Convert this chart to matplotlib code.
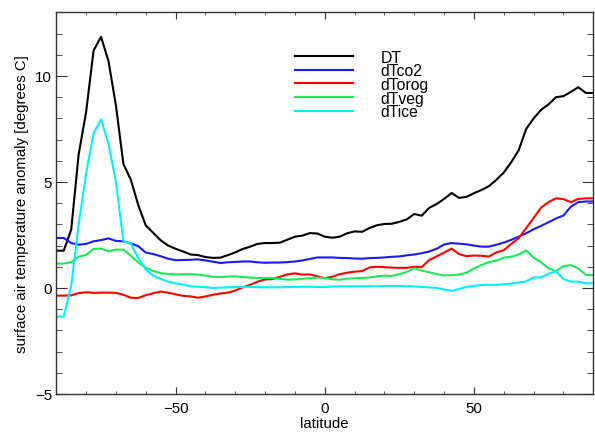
import numpy as np
import matplotlib
matplotlib.use('Agg')
import matplotlib.pyplot as plt
from matplotlib.ticker import MultipleLocator

plt.rcParams['font.family'] = ['Liberation Sans', 'DejaVu Sans']

# latitude grid (2.5 degree steps)
lat = np.arange(-90, 90.1, 2.5)

DT = [1.76, 1.76, 2.75, 6.3, 8.3, 11.2, 11.85, 10.7, 8.6, 5.85,
      5.1, 3.9, 2.95, 2.6, 2.25, 2.0, 1.85, 1.72, 1.58, 1.55,
      1.46, 1.42, 1.43, 1.55, 1.68, 1.84, 1.95, 2.08, 2.12, 2.12,
      2.14, 2.28, 2.42, 2.47, 2.59, 2.57, 2.42, 2.37, 2.42, 2.58,
      2.67, 2.65, 2.83, 2.96, 3.02, 3.03, 3.12, 3.24, 3.49, 3.41,
      3.78, 3.96, 4.2, 4.48, 4.25, 4.3, 4.47, 4.62, 4.8, 5.1,
      5.45, 5.93, 6.5, 7.5, 8.0, 8.4, 8.66, 9.0, 9.05, 9.25,
      9.47, 9.2, 9.2]

dTco2 = [2.36, 2.36, 2.12, 2.04, 2.08, 2.2, 2.26, 2.34, 2.22, 2.2,
         2.1, 1.97, 1.67, 1.6, 1.5, 1.38, 1.31, 1.32, 1.33, 1.35,
         1.3, 1.24, 1.18, 1.21, 1.23, 1.25, 1.25, 1.21, 1.19, 1.2,
         1.2, 1.22, 1.25, 1.3, 1.37, 1.44, 1.44, 1.44, 1.42, 1.41,
         1.39, 1.38, 1.41, 1.42, 1.44, 1.47, 1.49, 1.54, 1.58, 1.64,
         1.72, 1.85, 2.05, 2.12, 2.09, 2.06, 2.0, 1.95, 1.95, 2.04,
         2.14, 2.27, 2.42, 2.58, 2.77, 2.93, 3.1, 3.28, 3.42, 3.84,
         4.05, 4.08, 4.08]

dTorog = [-0.36, -0.36, -0.35, -0.24, -0.2, -0.23, -0.22, -0.22, -0.23, -0.32,
          -0.46, -0.47, -0.34, -0.25, -0.17, -0.22, -0.3, -0.37, -0.4, -0.46,
          -0.4, -0.32, -0.26, -0.22, -0.12, 0.03, 0.15, 0.3, 0.4, 0.42,
          0.53, 0.64, 0.69, 0.63, 0.64, 0.55, 0.46, 0.53, 0.65, 0.72,
          0.77, 0.8, 0.97, 1.0, 0.98, 0.96, 0.95, 0.95, 1.0, 0.98,
          1.32, 1.49, 1.67, 1.86, 1.6, 1.5, 1.53, 1.52, 1.48, 1.68,
          1.78, 2.08, 2.35, 2.82, 3.3, 3.79, 4.05, 4.23, 4.19, 4.05,
          4.2, 4.23, 4.23]

dTveg = [1.15, 1.15, 1.22, 1.48, 1.56, 1.84, 1.86, 1.73, 1.81, 1.81,
         1.52, 1.2, 0.95, 0.8, 0.7, 0.66, 0.64, 0.65, 0.65, 0.63,
         0.59, 0.53, 0.51, 0.54, 0.55, 0.52, 0.49, 0.47, 0.47, 0.47,
         0.43, 0.39, 0.4, 0.43, 0.47, 0.49, 0.47, 0.41, 0.39, 0.44,
         0.46, 0.47, 0.5, 0.55, 0.58, 0.57, 0.65, 0.76, 0.93, 0.82,
         0.74, 0.66, 0.59, 0.6, 0.63, 0.72, 0.92, 1.08, 1.22, 1.29,
         1.43, 1.47, 1.58, 1.77, 1.43, 1.21, 0.93, 0.8, 1.03, 1.08,
         0.92, 0.62, 0.61]

dTice = [-1.35, -1.35, 0.1, 3.0, 5.4, 7.3, 7.95, 6.8, 5.0, 2.2,
         2.1, 1.4, 0.87, 0.58, 0.43, 0.3, 0.22, 0.16, 0.08, 0.06,
         0.04, 0.0, 0.02, 0.03, 0.04, 0.05, 0.05, 0.04, 0.03, 0.03,
         0.03, 0.04, 0.05, 0.06, 0.06, 0.05, 0.05, 0.07, 0.08, 0.08,
         0.08, 0.08, 0.08, 0.08, 0.09, 0.09, 0.09, 0.08, 0.07, 0.05,
         0.03, 0.0, -0.07, -0.13, -0.05, 0.05, 0.1, 0.14, 0.15, 0.15,
         0.17, 0.21, 0.26, 0.31, 0.5, 0.5, 0.67, 0.79, 0.42, 0.3,
         0.3, 0.22, 0.22]

series = [('DT', DT, 'black'), ('dTco2', dTco2, '#1a1aff'),
          ('dTorog', dTorog, '#ff0000'), ('dTveg', dTveg, '#1ee85a'),
          ('dTice', dTice, '#00f0ff')]

fig = plt.figure(figsize=(5.95, 4.35), dpi=100)
ax = fig.add_axes([0.0946, 0.092, 0.9025, 0.8772])

for name, vals, col in series:
    ax.plot(lat, vals, color=col, lw=1.5, label=name)

ax.set_xlim(-90, 90)
ax.set_ylim(-5, 13)
ax.xaxis.set_major_locator(MultipleLocator(50))
ax.xaxis.set_minor_locator(MultipleLocator(10))
ax.yaxis.set_major_locator(MultipleLocator(5))
ax.yaxis.set_minor_locator(MultipleLocator(1))
ax.tick_params(which='both', direction='in', top=True, right=True, labelsize=10.8, color='#333333')
ax.tick_params(axis='y', which='major', length=7.7, pad=3)
ax.tick_params(axis='y', which='minor', length=4)
ax.tick_params(axis='x', which='major', length=4.8, pad=5)
ax.tick_params(axis='x', which='minor', length=2.4)
for s in ax.spines.values():
    s.set_linewidth(1.0)
    s.set_color('#333333')

ax.set_xlabel('latitude', fontsize=10.8, labelpad=1)
ax.set_ylabel('surface air temperature anomaly [degrees C]', fontsize=10.8, labelpad=4)

ax.legend(loc='upper left', bbox_to_anchor=(0.4445, 0.902), frameon=False,
          fontsize=11.3, handlelength=3.7, handletextpad=1.75, labelspacing=-0.09,
          borderpad=0, borderaxespad=0)

fig.savefig('out.png', dpi=100)
